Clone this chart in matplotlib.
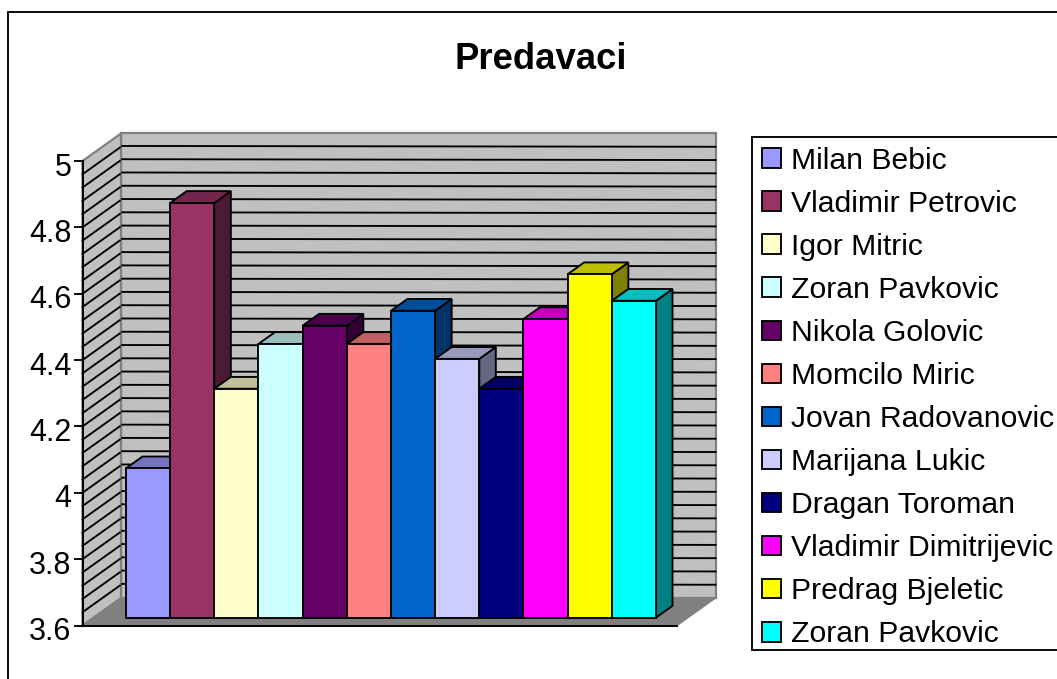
import matplotlib
matplotlib.use("Agg")
import matplotlib.pyplot as plt
from matplotlib.patches import Polygon, Patch, Rectangle
from matplotlib.colors import to_rgb
from matplotlib.transforms import ScaledTranslation

plt.rcParams['font.family'] = ['Liberation Sans', 'DejaVu Sans']

names = ["Milan Bebic", "Vladimir Petrovic", "Igor Mitric", "Zoran Pavkovic",
         "Nikola Golovic", "Momcilo Miric", "Jovan Radovanovic", "Marijana Lukic",
         "Dragan Toroman", "Vladimir Dimitrijevic", "Predrag Bjeletic", "Zoran Pavkovic"]
values = [4.05, 4.85, 4.29, 4.425, 4.48, 4.425, 4.525, 4.38, 4.29, 4.50, 4.635, 4.555]
colors = ["#9999FF", "#993366", "#FFFFCC", "#CCFFFF", "#660066", "#FF8080",
          "#0066CC", "#CCCCFF", "#000080", "#FF00FF", "#FFFF00", "#00FFFF"]
ticks = [3.6, 3.8, 4.0, 4.2, 4.4, 4.6, 4.8, 5.0]

W, H = 1057, 679
fig = plt.figure(figsize=(W / 100, H / 100), dpi=100, facecolor="white")

L, R, T, B = 82.5, 677, 161, 625.5
ax = fig.add_axes([L / W, 1 - B / H, (R - L) / W, (B - T) / H])
xmin, xmax = -0.735, len(values) + 0.725
ymin, ymax = 3.6, 5.0
ax.set_xlim(xmin, xmax)
ax.set_ylim(ymin, ymax)
ax.patch.set_visible(False)

ux = (xmax - xmin) / (R - L)   # data units per pixel
uy = (ymax - ymin) / (B - T)
DX, DY = 38.5 * ux, 27.5 * uy  # full floor depth
LW = 1.35
D0, D1 = 0.286, 0.715          # depth of the bars inside the floor


def proj(x, v, d):
    return (x + d * DX, v + d * DY)


def poly(pts, **kw):
    kw.setdefault("clip_on", False)
    ax.add_patch(Polygon(pts, closed=True, **kw))


# walls and floor
poly([proj(xmin, ymin, 1), proj(xmax, ymin, 1), proj(xmax, ymax, 1), proj(xmin, ymax, 1)],
     facecolor="#C0C0C0", edgecolor="#808080", linewidth=1.6, zorder=1)
poly([proj(xmin, ymin, 0), proj(xmin, ymin, 1), proj(xmin, ymax, 1), proj(xmin, ymax, 0)],
     facecolor="#C0C0C0", edgecolor="#808080", linewidth=1.6, zorder=1)
poly([proj(xmin, ymin, 0), proj(xmax, ymin, 0), proj(xmax, ymin, 1), proj(xmin, ymin, 1)],
     facecolor="#808080", edgecolor="#808080", linewidth=1.0, zorder=1)

# gridlines every 0.04 on both walls
for k in range(1, 35):
    v = ymin + k * 0.04
    a, b = proj(xmin, v, 0), proj(xmin, v, 0.97)
    c, d = proj(xmin, v, 1.03), proj(xmax, v, 1)
    ax.plot([a[0], b[0]], [a[1], b[1]], color="black", lw=LW, clip_on=False, zorder=2)
    ax.plot([c[0], d[0]], [c[1], d[1]], color="black", lw=LW, clip_on=False, zorder=2)

# bars, left to right
z = 3
for i, (v, col) in enumerate(zip(values, colors)):
    rgb = to_rgb(col)
    top = tuple(c * 0.75 for c in rgb)
    side = tuple(c * 0.5 for c in rgb)
    style = dict(edgecolor="black", linewidth=LW, joinstyle="miter", zorder=z)
    poly([proj(i + 1, ymin, D0), proj(i + 1, ymin, D1), proj(i + 1, v, D1), proj(i + 1, v, D0)],
         facecolor=side, **style)
    poly([proj(i, v, D0), proj(i + 1, v, D0), proj(i + 1, v, D1), proj(i, v, D1)],
         facecolor=top, **style)
    poly([proj(i, ymin, D0), proj(i + 1, ymin, D0), proj(i + 1, v, D0), proj(i, v, D0)],
         facecolor=col, **style)
    z += 1

# axes
for s in ("top", "right"):
    ax.spines[s].set_visible(False)
for s in ("left", "bottom"):
    ax.spines[s].set_linewidth(LW + 0.1)
    ax.spines[s].set_zorder(30)
ax.set_xticks([])
ax.set_yticks(ticks)
ax.set_yticklabels([f"{t:g}" for t in ticks], fontsize=22)
ax.tick_params(axis="y", length=6.5, width=LW, pad=1.5, color="black")
label_shift = ScaledTranslation(0, -3 / 100, fig.dpi_scale_trans)
for lab in ax.get_yticklabels():
    lab.set_transform(lab.get_transform() + label_shift)

# title
fig.text(541 / W, 1 - 59.5 / H, "Predavaci", fontsize=26.3, fontweight="bold",
         ha="center", va="center")

# outer frame running past the right and bottom edges
fig.add_artist(Rectangle((8 / W, -0.05), 1.1, 1.05 - 12 / H, transform=fig.transFigure,
                         facecolor="none", edgecolor="black", linewidth=LW))

# legend box running past the right edge
leg_left, leg_top, leg_bot = 752, 136.5, 650
fig.add_artist(Rectangle((leg_left / W, 1 - leg_bot / H), 0.5, (leg_bot - leg_top) / H,
                         transform=fig.transFigure, facecolor="white", edgecolor="black",
                         linewidth=LW, zorder=5))
handles = [Patch(facecolor=c, edgecolor="black", linewidth=LW) for c in colors]
leg = fig.legend(handles, names, loc="center left",
                 bbox_to_anchor=(761.5 / W, 1 - 397.5 / H),
                 ncols=1, fontsize=21.7, frameon=False, borderaxespad=0, borderpad=0,
                 labelspacing=0.50, handlelength=0.66, handleheight=0.62,
                 handletextpad=0.33, labelcolor="black")
leg.set_zorder(6)

fig.savefig("out.png", dpi=100)
